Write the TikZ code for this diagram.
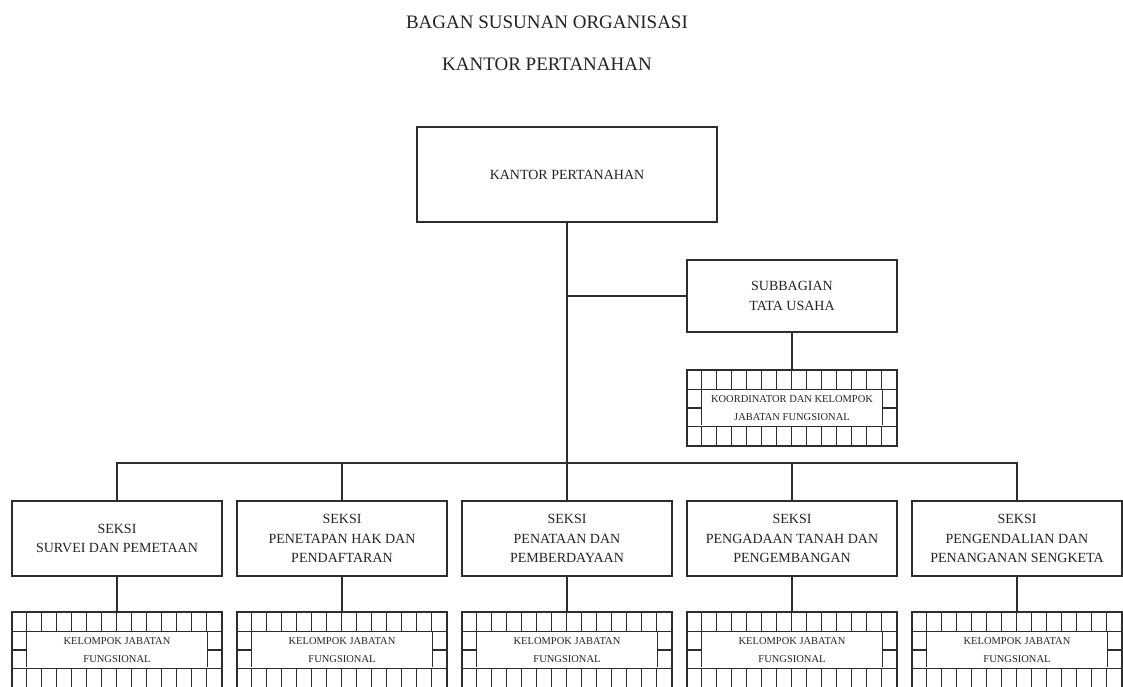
\documentclass[tikz,border=0pt]{standalone}
\usepackage{fontspec}
\setmainfont{Liberation Serif}
\usetikzlibrary{positioning,calc}

\definecolor{chartline}{RGB}{45,45,45}
\definecolor{charttext}{RGB}{35,35,35}

% cells round a Kelompok Jabatan Fungsional box
\newcommand{\gridcells}[1]{%
  \draw (#1.north west) ++(0,20) -- ++(210,0);
  \draw (#1.south west) ++(0,-20) -- ++(210,0);
  \foreach \i in {1,...,13} {
    \draw (#1.north west) ++(15*\i,0) -- ++(0,20);
    \draw (#1.south west) ++(15*\i,0) -- ++(0,-20);
  }
  \draw (#1.north west) ++(15,20) -- ++(0,36);
  \draw (#1.north east) ++(-15,20) -- ++(0,36);
  \draw (#1.west) -- ++(15,0);
  \draw (#1.east) -- ++(-15,0);
}

\begin{document}
\begin{tikzpicture}[x=1pt, y=-1pt, line width=1.2pt, color=chartline,
    unitbox/.style={draw, rectangle, minimum width=210pt, minimum height=75pt,
      inner sep=0pt, align=center, text=charttext,
      font=\fontsize{14}{19.5}\selectfont},
    headbox/.style={unitbox, minimum width=300pt, minimum height=95pt},
    staffbox/.style={unitbox, minimum height=72pt},
    fungsibox/.style={draw, rectangle, minimum width=210pt, minimum height=76pt,
      inner sep=0pt, align=center, text=charttext,
      font=\fontsize{10.5}{18.5}\selectfont},
    charttitle/.style={text=charttext, font=\fontsize{19}{23}\selectfont}]
    \useasboundingbox (0,0) rectangle (1123,686);
    \clip (0,0) rectangle (1123,686);

    \node[charttitle] (title1) at (547,22.5) {BAGAN SUSUNAN ORGANISASI};
    \node[charttitle] (title2) at (547,64) {KANTOR PERTANAHAN};

    \node[headbox] (kantor) at (567,174.5) {KANTOR PERTANAHAN};
    \node[staffbox] (subbagian) at (792,296) {SUBBAGIAN\\TATA USAHA};
    \node[fungsibox] (koordinator) at (792,408)
        {KOORDINATOR DAN KELOMPOK\\JABATAN FUNGSIONAL};

    \node[unitbox] (survei) at (117,538.5) {SEKSI\\SURVEI DAN PEMETAAN};
    \node[unitbox] (penetapan) at (342,538.5) {SEKSI\\PENETAPAN HAK DAN\\PENDAFTARAN};
    \node[unitbox] (penataan) at (567,538.5) {SEKSI\\PENATAAN DAN\\PEMBERDAYAAN};
    \node[unitbox] (pengadaan) at (792,538.5) {SEKSI\\PENGADAAN TANAH DAN\\PENGEMBANGAN};
    \node[unitbox] (pengendalian) at (1017,538.5) {SEKSI\\PENGENDALIAN DAN\\PENANGANAN SENGKETA};

    \foreach \name/\x in {survei/117, penetapan/342, penataan/567,
                          pengadaan/792, pengendalian/1017} {
      \node[fungsibox] (kjf-\name) at (\x,650) {KELOMPOK JABATAN\\FUNGSIONAL};
      \gridcells{kjf-\name}
      \draw (\name) -- (kjf-\name);
    }
    \gridcells{koordinator}

    % lines
    \coordinate (bus) at (567,463);
    \draw (kantor) -- (penataan);
    \draw (subbagian.west) -- (subbagian.west -| kantor.south);
    \draw (subbagian) -- (koordinator);
    \draw (survei.north) |- (bus) -| (pengendalian.north);
    \draw (penetapan.north) -- (penetapan.north |- bus);
    \draw (pengadaan.north) -- (pengadaan.north |- bus);
\end{tikzpicture}
\end{document}
